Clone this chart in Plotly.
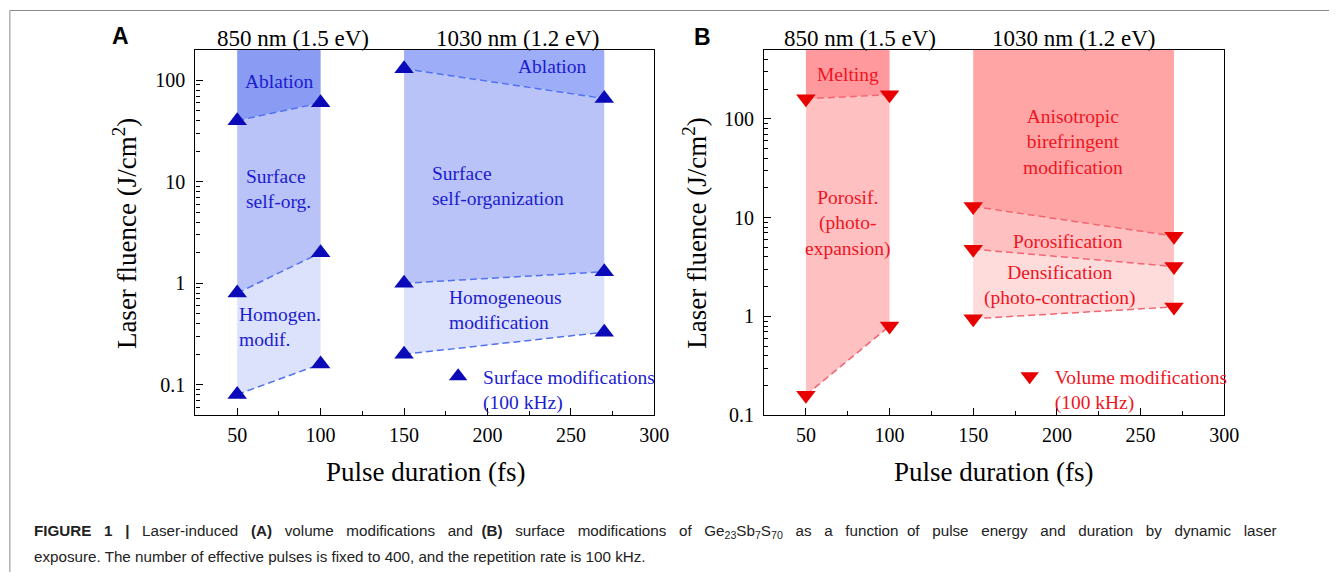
import plotly.graph_objects as go
import math

W, H = 1344, 583

# ---------------- data ----------------
pulse_850 = [50, 100]
pulse_1030 = [150, 270]

# Panel A: surface modifications (thresholds, J/cm^2)
A_850_homog = [0.08, 0.16]
A_850_selforg = [0.8, 2.0]
A_850_ablation = [40, 60]
A_1030_homog = [0.2, 0.33]
A_1030_selforg = [1.0, 1.3]
A_1030_ablation = [130, 66]

# Panel B: volume modifications (thresholds, J/cm^2)
B_850_porosif = [0.16, 0.8]
B_850_melting = [160, 175]
B_1030_densif = [0.95, 1.25]
B_1030_porosif = [4.8, 3.2]
B_1030_aniso = [13, 6.5]

A_yrange = [0.05, 200]
B_yrange = [0.1, 500]
x_range = [25, 300]
x_ticks = [50, 100, 150, 200, 250, 300]
y_ticks = [0.1, 1, 10, 100]
y_ticktext = ["0.1", "1", "10", "100"]

# ---------------- styles ----------------
SERIF = "Liberation Serif, Times New Roman, serif"
SANS = "Liberation Sans, Arial, sans-serif"
BLUE_TXT = "#1c1cd0"
RED_TXT = "#f0141e"
BLUE_MK = "#0a0ab8"
RED_MK = "#e80000"
BLUE_DASH = "#5272f0"
RED_DASH = "#f26672"

A_col_light = "#dce2fb"
A_col_mid = "#b9c3f7"
A_col_dark850 = "#8a9bf4"
A_col_dark1030 = "#9dadf7"
B_col_light = "#ffdcdc"
B_col_mid = "#ffc0c2"
B_col_dark850 = "#ff999e"
B_col_dark1030 = "#ffa5a6"


def px(x):
    return x / W


def py(y):
    return 1 - y / H


fig = go.Figure()


def band(xs, lo, hi, color, xa, ya):
    fig.add_trace(go.Scatter(
        x=list(xs) + list(xs)[::-1], y=list(lo) + list(hi)[::-1],
        fill="toself", fillcolor=color, mode="lines", line=dict(width=0),
        hoverinfo="skip", showlegend=False, xaxis=xa, yaxis=ya))


def dashed(xs, ys, color, xa, ya):
    fig.add_trace(go.Scatter(
        x=xs, y=ys, mode="lines", line=dict(color=color, width=1.5, dash="7px,4px"),
        hoverinfo="skip", showlegend=False, xaxis=xa, yaxis=ya))


# ---- Panel A fills ----
topA = [A_yrange[1]] * 2
band(pulse_850, A_850_homog, A_850_selforg, A_col_light, "x", "y")
band(pulse_850, A_850_selforg, A_850_ablation, A_col_mid, "x", "y")
band(pulse_850, A_850_ablation, topA, A_col_dark850, "x", "y")
band(pulse_1030, A_1030_homog, A_1030_selforg, A_col_light, "x", "y")
band(pulse_1030, A_1030_selforg, A_1030_ablation, A_col_mid, "x", "y")
band(pulse_1030, A_1030_ablation, topA, A_col_dark1030, "x", "y")

# ---- Panel B fills ----
topB = [B_yrange[1]] * 2
band(pulse_850, B_850_porosif, B_850_melting, B_col_mid, "x2", "y2")
band(pulse_850, B_850_melting, topB, B_col_dark850, "x2", "y2")
band(pulse_1030, B_1030_densif, B_1030_porosif, B_col_light, "x2", "y2")
band(pulse_1030, B_1030_porosif, B_1030_aniso, B_col_mid, "x2", "y2")
band(pulse_1030, B_1030_aniso, topB, B_col_dark1030, "x2", "y2")

# ---- dashed threshold lines ----
for s in [A_850_homog, A_850_selforg, A_850_ablation]:
    dashed(pulse_850, s, BLUE_DASH, "x", "y")
for s in [A_1030_homog, A_1030_selforg, A_1030_ablation]:
    dashed(pulse_1030, s, BLUE_DASH, "x", "y")
for s in [B_850_porosif, B_850_melting]:
    dashed(pulse_850, s, RED_DASH, "x2", "y2")
for s in [B_1030_densif, B_1030_porosif, B_1030_aniso]:
    dashed(pulse_1030, s, RED_DASH, "x2", "y2")

# ---- markers ----
A_series = [(pulse_850, A_850_homog), (pulse_850, A_850_selforg), (pulse_850, A_850_ablation),
            (pulse_1030, A_1030_homog), (pulse_1030, A_1030_selforg), (pulse_1030, A_1030_ablation)]
B_series = [(pulse_850, B_850_porosif), (pulse_850, B_850_melting),
            (pulse_1030, B_1030_densif), (pulse_1030, B_1030_porosif), (pulse_1030, B_1030_aniso)]

fig.add_trace(go.Scatter(
    x=[v for xs, _ in A_series for v in xs], y=[v for _, ys in A_series for v in ys],
    mode="markers", marker=dict(symbol="triangle-up", size=17, color=BLUE_MK),
    name="Surface modifications<br>(100 kHz)", legend="legend", cliponaxis=False,
    xaxis="x", yaxis="y"))
fig.add_trace(go.Scatter(
    x=[v for xs, _ in B_series for v in xs], y=[v for _, ys in B_series for v in ys],
    mode="markers", marker=dict(symbol="triangle-down", size=17, color=RED_MK),
    name="Volume modifications<br>(100 kHz)", legend="legend2", cliponaxis=False,
    xaxis="x2", yaxis="y2"))

# ---------------- axes ----------------
y_dom = [py(423.3), py(50.7)]


def minor_log(lo, hi):
    vals = []
    for e in range(-3, 4):
        for m in range(2, 10):
            v = m * 10 ** e
            if lo <= v <= hi * 1.0001:
                vals.append(v)
    return vals


def xaxis_cfg(dom):
    return dict(domain=dom, range=x_range, tickmode="array", tickvals=x_ticks,
                ticks="inside", ticklen=7, tickwidth=1.2, tickcolor="black",
                showline=True, linecolor="black", linewidth=1.3, mirror=True,
                showgrid=False, zeroline=False, ticklabelstandoff=2,
                tickfont=dict(family=SERIF, size=20, color="black"),
                minor=dict(tickmode="array", tickvals=[75, 125, 175, 225, 275],
                           ticks="inside", ticklen=4, tickcolor="black", showgrid=False))


def yaxis_cfg(rng, anchor):
    return dict(domain=y_dom, type="log", range=[math.log10(rng[0]), math.log10(rng[1])],
                anchor=anchor, tickmode="array", tickvals=y_ticks, ticktext=y_ticktext,
                ticks="inside", ticklen=7, tickwidth=1.2, tickcolor="black",
                showline=True, linecolor="black", linewidth=1.3, mirror=True,
                showgrid=False, zeroline=False, ticklabelstandoff=5,
                tickfont=dict(family=SERIF, size=20, color="black"),
                minor=dict(tickmode="array", tickvals=minor_log(rng[0], rng[1]),
                           ticks="inside", ticklen=4, tickcolor="black", showgrid=False))


fig.update_layout(
    width=W, height=H, margin=dict(l=0, r=0, t=0, b=0),
    paper_bgcolor="white", plot_bgcolor="white",
    xaxis=dict(**xaxis_cfg([px(197.7), px(661.7)]), anchor="y"),
    yaxis=yaxis_cfg(A_yrange, "x"),
    xaxis2=dict(**xaxis_cfg([px(772.7), px(1238)]), anchor="y2"),
    yaxis2=yaxis_cfg(B_yrange, "x2"),
    legend=dict(x=px(438), y=py(364), xanchor="left", yanchor="top",
                bgcolor="rgba(0,0,0,0)", valign="top", itemwidth=40,
                font=dict(family=SERIF, size=19.5, color=BLUE_TXT)),
    legend2=dict(x=px(1016), y=py(364), xanchor="left", yanchor="top",
                 bgcolor="rgba(0,0,0,0)", valign="top", itemwidth=40,
                 font=dict(family=SERIF, size=19.5, color=RED_TXT)),
)

ann = []


def label(text, x, y, color, size=19.5, xanchor="center", align="center", family=SERIF, angle=0):
    ann.append(dict(text=text, x=px(x), y=py(y), xref="paper", yref="paper",
                    xanchor=xanchor, yanchor="middle", align=align, showarrow=False,
                    textangle=angle, font=dict(family=family, size=size, color=color)))


# panel letters
label("<b>A</b>", 122, 37, "black", size=23, family=SANS)
label("<b>B</b>", 710, 38, "black", size=23, family=SANS)
# wavelength headers
for cx in (296, 870):
    label("850 nm (1.5 eV)", cx, 39, "black", size=23)
for cx in (524, 1086):
    label("1030 nm (1.2 eV)", cx, 39, "black", size=23)
# axis titles
for cx in (430, 1005):
    label("Pulse duration (fs)", cx, 481, "black", size=27)
for cx in (126, 702):
    label("Laser fluence (J/cm<sup>2</sup>)", cx, 238, "black", size=27, angle=-90)

# panel A region labels
label("Ablation", 282, 83, BLUE_TXT)
label("Surface<br>self-org.", 247, 193, BLUE_TXT, xanchor="left", align="left")
label("Homogen.<br>modif.", 240, 333, BLUE_TXT, xanchor="left", align="left")
label("Ablation", 558, 68, BLUE_TXT)
label("Surface<br>self-organization", 435, 190, BLUE_TXT, xanchor="left", align="left")
label("Homogeneous<br>modification", 452, 316, BLUE_TXT, xanchor="left", align="left")

# panel B region labels
label("Melting", 858, 76, RED_TXT)
label("Porosif.<br>(photo-<br>expansion)", 858, 228, RED_TXT)
label("Anisotropic<br>birefringent<br>modification", 1085, 145, RED_TXT)
label("Porosification", 1080, 246, RED_TXT)
label("Densification<br>(photo-contraction)", 1072, 291, RED_TXT)

# caption (first line justified with extra non-breaking spaces)
CAP = "Liberation Sans, Arial, sans-serif"
cap_words = ["<b>FIGURE", "1", "|</b>", "Laser-induced", "<b>(A)</b>", "volume", "modifications",
             "and", "<b>(B)</b>", "surface", "modifications", "of",
             "Ge<sub>23</sub>Sb<sub>7</sub>S<sub>70</sub>", "as", "a", "function", "of", "pulse",
             "energy", "and", "duration", "by", "dynamic", "laser"]
line1 = cap_words[0]
for i, w in enumerate(cap_words[1:]):
    gap = " \u00a0\u00a0" if i % 8 != 7 else " \u00a0"
    line1 += gap + w
label(line1, 32, 541.7, "#222222", size=15.2, xanchor="left", align="left", family=CAP)
label("exposure. The number of effective pulses is fixed to 400, and the repetition rate is 100 kHz.",
      32, 566.7, "#222222", size=15.2, xanchor="left", align="left", family=CAP)

fig.update_layout(annotations=ann)

# outer figure frame (top and left edges)
fig.update_layout(shapes=[
    dict(type="line", xref="paper", yref="paper", x0=px(10), x1=1, y0=py(10.7), y1=py(10.7),
         line=dict(color="#8a8a8a", width=1)),
    dict(type="line", xref="paper", yref="paper", x0=px(10), x1=px(10), y0=py(10.7), y1=0,
         line=dict(color="#8a8a8a", width=1)),
])

fig.write_html("out.html")
